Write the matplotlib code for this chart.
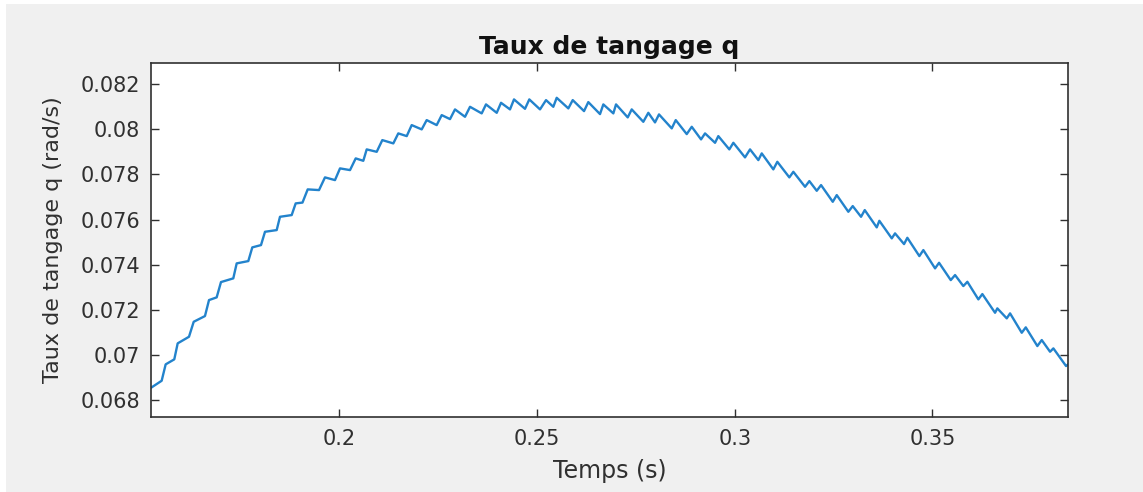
import matplotlib
matplotlib.use('Agg')
import matplotlib.pyplot as plt
from matplotlib.patches import Rectangle

# pitch rate samples (corners of the rippled response)
temps = [0.15255, 0.15508, 0.15609, 0.15827, 0.15913, 0.16199, 0.16318, 0.16603, 0.16705, 0.16899,
         0.17008, 0.17319, 0.17405, 0.17699, 0.17800, 0.18020, 0.18121, 0.18417, 0.18500, 0.18796,
         0.18897, 0.19069, 0.19201, 0.19487, 0.19638, 0.19891, 0.20018, 0.20271, 0.20415, 0.20607,
         0.20693, 0.20946, 0.21088, 0.21366, 0.21492, 0.21705, 0.21831, 0.22084, 0.22210, 0.22463,
         0.22590, 0.22800, 0.22926, 0.23179, 0.23306, 0.23601, 0.23710, 0.23981, 0.24090, 0.24317,
         0.24418, 0.24696, 0.24805, 0.25076, 0.25228, 0.25412, 0.25498, 0.25792, 0.25903, 0.26189,
         0.26297, 0.26593, 0.26677, 0.26930, 0.26998, 0.27294, 0.27395, 0.27688, 0.27815, 0.27984,
         0.28085, 0.28407, 0.28508, 0.28786, 0.28913, 0.29148, 0.29249, 0.29502, 0.29585, 0.29863,
         0.29965, 0.30260, 0.30387, 0.30597, 0.30683, 0.30976, 0.31077, 0.31381, 0.31482, 0.31778,
         0.31887, 0.32074, 0.32183, 0.32479, 0.32580, 0.32873, 0.32984, 0.33194, 0.33288, 0.33591,
         0.33657, 0.33971, 0.34054, 0.34282, 0.34365, 0.34669, 0.34770, 0.35066, 0.35167, 0.35463,
         0.35572, 0.35781, 0.35883, 0.36161, 0.36262, 0.36583, 0.36641, 0.36879, 0.36963, 0.37258,
         0.37360, 0.37653, 0.37764, 0.37974, 0.38058, 0.38379, 0.38437]

q = [0.068580, 0.068872, 0.069597, 0.069819, 0.070527, 0.070819, 0.071482, 0.071735, 0.072442, 0.072562,
     0.073239, 0.073403, 0.074066, 0.074168, 0.074774, 0.074876, 0.075465, 0.075540, 0.076128, 0.076204,
     0.076721, 0.076757, 0.077341, 0.077310, 0.077872, 0.077752, 0.078270, 0.078195, 0.078712, 0.078606,
     0.079111, 0.079004, 0.079522, 0.079376, 0.079819, 0.079699, 0.080186, 0.079996, 0.080407, 0.080186,
     0.080628, 0.080451, 0.080881, 0.080553, 0.080996, 0.080704, 0.081102, 0.080730, 0.081173, 0.080881,
     0.081323, 0.080907, 0.081323, 0.080881, 0.081292, 0.080996, 0.081394, 0.080925, 0.081292, 0.080805,
     0.081204, 0.080673, 0.081102, 0.080704, 0.081102, 0.080527, 0.080881, 0.080332, 0.080730, 0.080305,
     0.080659, 0.080040, 0.080407, 0.079788, 0.080111, 0.079553, 0.079819, 0.079403, 0.079699, 0.079111,
     0.079403, 0.078757, 0.079111, 0.078637, 0.078934, 0.078226, 0.078562, 0.077872, 0.078119, 0.077456,
     0.077708, 0.077279, 0.077531, 0.076792, 0.077088, 0.076350, 0.076602, 0.076128, 0.076425, 0.075659,
     0.075951, 0.075173, 0.075394, 0.074920, 0.075199, 0.074389, 0.074655, 0.073845, 0.074093, 0.073327,
     0.073549, 0.073062, 0.073252, 0.072473, 0.072708, 0.071881, 0.072075, 0.071633, 0.071854, 0.070996,
     0.071235, 0.070407, 0.070673, 0.070155, 0.070305, 0.069522, 0.069611]

xticks = [0.2, 0.25, 0.3, 0.35]
yticks = [0.068, 0.07, 0.072, 0.074, 0.076, 0.078, 0.08, 0.082]

dark = '#303030'

fig = plt.figure(figsize=(11.43, 4.92), dpi=100, facecolor='white')
# grey window area (thin white strip left and top)
fig.patches.append(Rectangle((5.5 / 1143, 0), 1, 1 - 4 / 492, transform=fig.transFigure,
                             facecolor='#f0f0f0', edgecolor='none', zorder=-10))

ax = fig.add_axes([0.1321, 0.1530, 0.8026, 0.7183])
ax.set_facecolor('white')
ax.plot(temps, q, color='#2383cc', linewidth=1.7)

ax.set_xlim(0.15238, 0.38437)
ax.set_ylim(0.06728, 0.08292)
ax.set_xticks(xticks)
ax.set_xticklabels(['%g' % v for v in xticks])
ax.set_yticks(yticks)
ax.set_yticklabels(['%g' % v for v in yticks])

ax.tick_params(direction='in', length=6, width=1, colors=dark, labelsize=15,
               top=True, right=True)
ax.tick_params(axis='x', pad=9)
ax.tick_params(axis='y', pad=8)
for s in ax.spines.values():
    s.set_color(dark)
    s.set_linewidth(1.2)

ax.set_title('Taux de tangage q', fontsize=18, fontweight='bold', color='#111111', pad=7)
ax.set_xlabel('Temps (s)', fontsize=17, color=dark, labelpad=7)
ax.set_ylabel('Taux de tangage q (rad/s)', fontsize=16, color=dark, labelpad=12)

plt.savefig('out.png', dpi=100, facecolor=fig.get_facecolor())
